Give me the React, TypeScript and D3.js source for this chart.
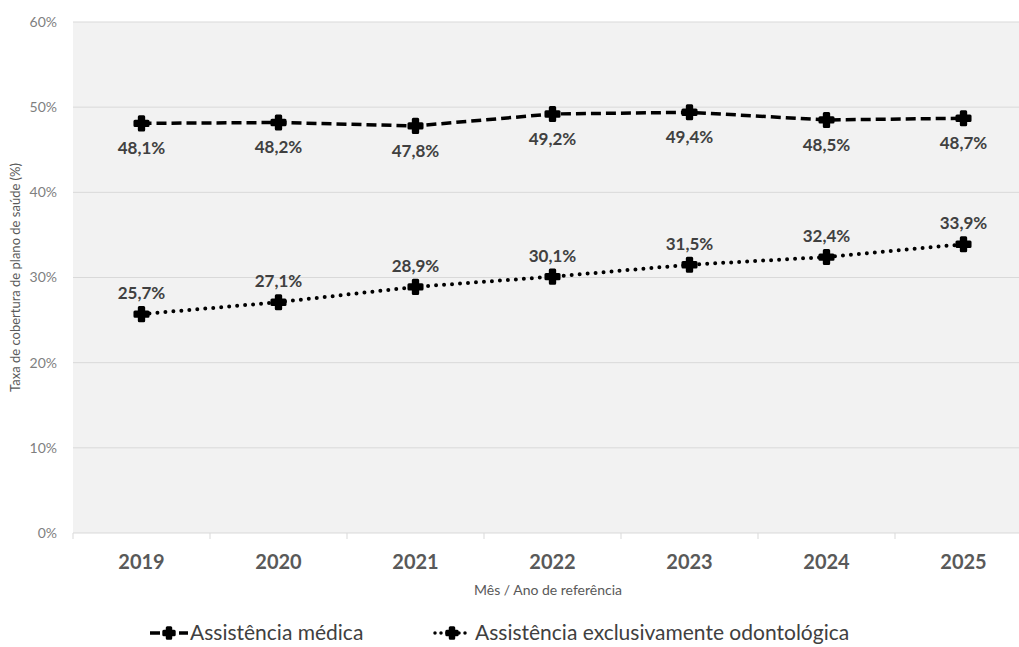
import React, { useEffect, useRef } from 'react';
import * as d3 from 'd3';

const years = ['2019', '2020', '2021', '2022', '2023', '2024', '2025'];
const medica = [48.1, 48.2, 47.8, 49.2, 49.4, 48.5, 48.7];
const odonto = [25.7, 27.1, 28.9, 30.1, 31.5, 32.4, 33.9];
const yTicks = [0, 10, 20, 30, 40, 50, 60];

const W = 1019;
const H = 647;
const FONT = 'Lato, "Open Sans", sans-serif';

const fmt = (v: number) => v.toFixed(1).replace('.', ',') + '%';

const App: React.FC = () => {
  const ref = useRef<SVGSVGElement>(null);

  useEffect(() => {
    if (!ref.current) return;
    const svg = d3.select(ref.current);
    svg.selectAll('*').remove();

    const left = 73;
    const right = 1032;
    const top = 22;
    const bottom = 533;

    const x = d3.scaleBand<string>().domain(years).range([left, right]);
    const y = d3.scaleLinear().domain([0, 60]).range([bottom, top]);
    const cx = (d: string) => (x(d) as number) + x.bandwidth() / 2;

    // plot background
    svg.append('rect')
      .attr('x', left).attr('y', top)
      .attr('width', right - left).attr('height', bottom - top)
      .attr('fill', '#f2f2f2');

    // gridlines
    svg.append('g').selectAll('line')
      .data(yTicks.filter(t => t > 0))
      .enter().append('line')
      .attr('x1', left).attr('x2', right)
      .attr('y1', d => y(d)).attr('y2', d => y(d))
      .attr('stroke', '#d9d9d9').attr('stroke-width', 1);

    // y tick labels
    svg.append('g').selectAll('text')
      .data(yTicks)
      .enter().append('text')
      .attr('x', 57).attr('y', d => y(d))
      .attr('dy', '0.35em')
      .attr('text-anchor', 'end')
      .attr('font-family', FONT).attr('font-size', 14)
      .attr('fill', '#7f7f7f')
      .text(d => `${d}%`);

    // x axis line and ticks
    svg.append('line')
      .attr('x1', left).attr('x2', right)
      .attr('y1', bottom).attr('y2', bottom)
      .attr('stroke', '#d9d9d9');
    svg.append('g').selectAll('line')
      .data(years.map(d => x(d) as number))
      .enter().append('line')
      .attr('x1', d => d).attr('x2', d => d)
      .attr('y1', bottom).attr('y2', bottom + 6)
      .attr('stroke', '#d9d9d9');

    // x tick labels
    svg.append('g').selectAll('text')
      .data(years)
      .enter().append('text')
      .attr('x', d => cx(d)).attr('y', 562)
      .attr('dy', '0.35em')
      .attr('text-anchor', 'middle')
      .attr('font-family', FONT).attr('font-size', 20).attr('font-weight', 'bold')
      .attr('fill', '#595959')
      .text(d => d);

    // axis titles
    svg.append('text')
      .attr('x', 548).attr('y', 590)
      .attr('dy', '0.35em')
      .attr('text-anchor', 'middle')
      .attr('font-family', FONT).attr('font-size', 14)
      .attr('fill', '#595959')
      .text('Mês / Ano de referência');
    svg.append('text')
      .attr('transform', `translate(15,${(top + bottom) / 2}) rotate(-90)`)
      .attr('dy', '0.35em')
      .attr('text-anchor', 'middle')
      .attr('font-family', FONT).attr('font-size', 13)
      .attr('fill', '#595959')
      .text('Taxa de cobertura de plano de saúde (%)');

    const line = d3.line<number>()
      .x((_, i) => cx(years[i]))
      .y(d => y(d));

    const cross = d3.symbol().type(d3.symbolCross).size(95);

    const series = [
      { values: medica, dash: '10,5', cap: 'butt', labelDy: 25 },
      { values: odonto, dash: '0,8', cap: 'round', labelDy: -21 },
    ];

    series.forEach(s => {
      svg.append('path')
        .datum(s.values)
        .attr('fill', 'none')
        .attr('stroke', '#000')
        .attr('stroke-width', s.cap === 'round' ? 4 : 3.5)
        .attr('stroke-dasharray', s.dash)
        .attr('stroke-linecap', s.cap)
        .attr('d', line);

      svg.append('g').selectAll('path')
        .data(s.values)
        .enter().append('path')
        .attr('transform', (d, i) => `translate(${cx(years[i])},${y(d)})`)
        .attr('d', cross() as string)
        .attr('fill', '#000')
        .attr('stroke', '#000')
        .attr('stroke-width', 3)
        .attr('stroke-linejoin', 'round');

      svg.append('g').selectAll('text')
        .data(s.values)
        .enter().append('text')
        .attr('x', (_, i) => cx(years[i]))
        .attr('y', d => y(d) + s.labelDy)
        .attr('dy', '0.35em')
        .attr('text-anchor', 'middle')
        .attr('font-family', FONT).attr('font-size', 17).attr('font-weight', 'bold')
        .attr('fill', '#404040')
        .text(d => fmt(d));
    });

    // legend
    const legend = [
      { name: 'Assistência médica', cap: 'butt', x0: 150, tx: 190 },
      { name: 'Assistência exclusivamente odontológica', cap: 'round', x0: 433, tx: 475 },
    ];
    const ly = 633;
    const small = d3.symbol().type(d3.symbolCross).size(60);
    legend.forEach(l => {
      const g = svg.append('g');
      g.append('line')
        .attr('x1', l.x0 + (l.cap === 'round' ? 2 : 0)).attr('x2', l.x0 + 38)
        .attr('y1', ly).attr('y2', ly)
        .attr('stroke', '#000')
        .attr('stroke-width', 3.5)
        .attr('stroke-dasharray', l.cap === 'round' ? '0,6' : '10,19,10')
        .attr('stroke-linecap', l.cap);
      g.append('path')
        .attr('transform', `translate(${l.x0 + 19},${ly})`)
        .attr('d', small() as string)
        .attr('fill', '#000')
        .attr('stroke', '#000')
        .attr('stroke-width', 3)
        .attr('stroke-linejoin', 'round');
      g.append('text')
        .attr('x', l.tx).attr('y', ly)
        .attr('dy', '0.35em')
        .attr('font-family', FONT).attr('font-size', 21)
        .attr('fill', '#404040')
        .text(l.name);
    });
  }, []);

  return (
    <svg
      ref={ref}
      width={W}
      height={H}
      style={{ position: 'absolute', left: 0, top: 0, background: '#fff' }}
    />
  );
};

export default App;
